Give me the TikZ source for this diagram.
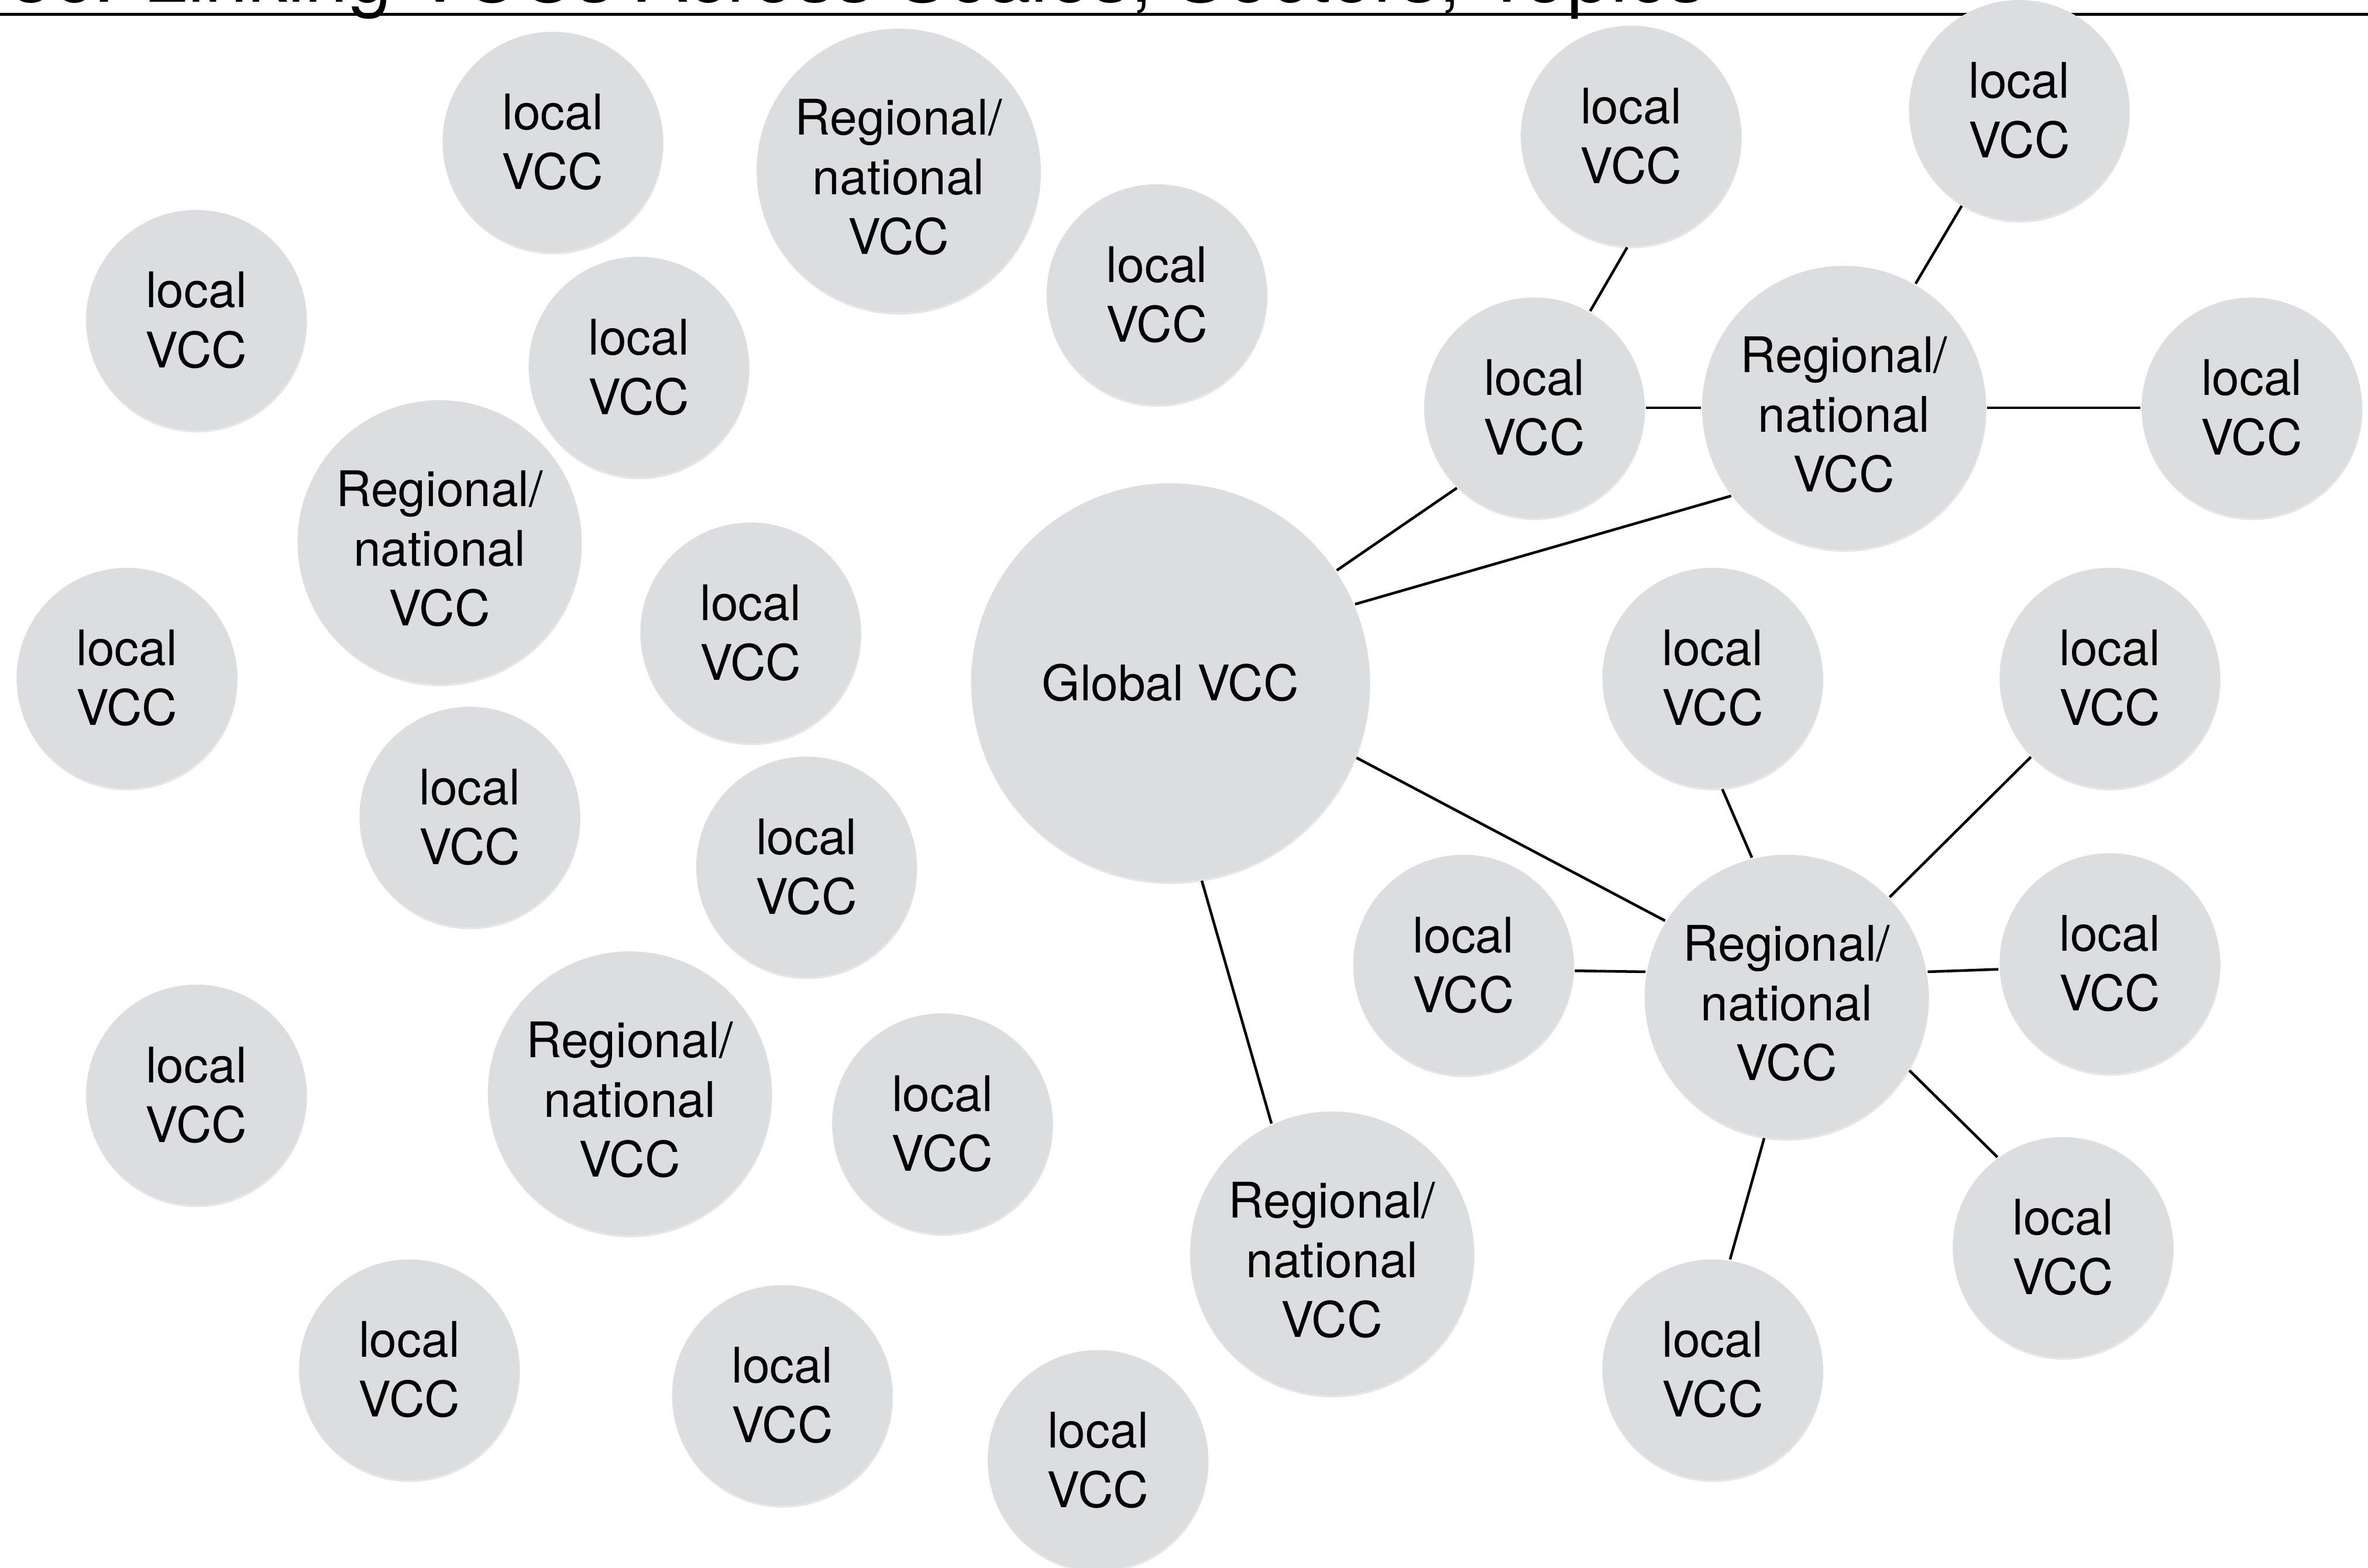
\documentclass[tikz,border=0pt]{standalone}
\usepackage{fontspec}
\setmainfont{TeX Gyre Heros}
\usepackage{tikz}
\usetikzlibrary{shadows}
\definecolor{vccgray}{RGB}{220,221,223}
\newcommand{\loctext}{local\\VCC}
\newcommand{\regtext}{\rule{0pt}{18.5pt}Regional/\\national\\VCC}

\begin{document}
\begin{tikzpicture}[x=0.02cm, y=-0.02cm, line width=1pt,
  vcc/.style={circle, fill=vccgray, inner sep=0pt, align=center,
    drop shadow={shadow xshift=0.2pt, shadow yshift=-0.8pt, opacity=0.2},
    font=\fontsize{18.5}{22.5}\selectfont},
  localvcc/.style={vcc, minimum size=2.92cm},
  regvcc/.style={vcc, minimum size=3.76cm}]
\useasboundingbox (0,0) rectangle (1568,1038);
%title (cut off at the top)
\node[anchor=base west, inner sep=0pt, font=\fontsize{29.5}{34}\selectfont] (title) at (6,1.2) {3c. Linking VCCs Across Scales, Sectors, Topics};
\draw[line width=1.2pt] (0,9.5) -- (1568,9.5);
%loose VCCs
\foreach \n/\x/\y in {l1/366/94, l2/766/195, l3/130/212, l4/423/243, l5/84/449,
	l6/497/419, l7/311/541, l8/534/574, l9/130/725, l10/624/744,
	l11/271/907, l12/518/924, l13/727/967}{
	\node[localvcc] (\n) at (\x,\y) {\loctext};
}
\foreach \n/\x/\y in {r1/595/113, r2/291/359, r3/417/724}{
	\node[regvcc] (\n) at (\x,\y) {\regtext};
}
%global
\node[vcc, minimum size=5.28cm] (glob) at (775,452) {Global VCC};
%network
\node[regvcc] (rne) at (1221,270) {\regtext};
\node[regvcc] (rse) at (1183,660) {\regtext};
\node[regvcc] (rs) at (882,830) {\regtext};
\foreach \n/\x/\y in {neW/1016/270, neN/1080/90, neNE/1337/73, neE/1491/270,
	seN/1134/449, seNE/1397/449, seW/969/639, seE/1397/638,
	seSE/1366/826, seS/1134/907}{
	\node[localvcc] (\n) at (\x,\y) {\loctext};
}
%links
\foreach \a/\b in {glob.34/neW.226, glob.23/rne.218, glob.-22/rse.148, glob.-81/rs.115,
	neW.0/rne.180, neN.-92/neW.60, rne.60/neNE.239, rne.0/neE.180,
	rse.104/seN.-85, rse.44/seNE.225, rse.170/seW.-3, rse.10/seE.183,
	rse.-31/seSE.126, rse.-99/seS.81}{
	\draw (\a) -- (\b);
}
\end{tikzpicture}
\end{document}
